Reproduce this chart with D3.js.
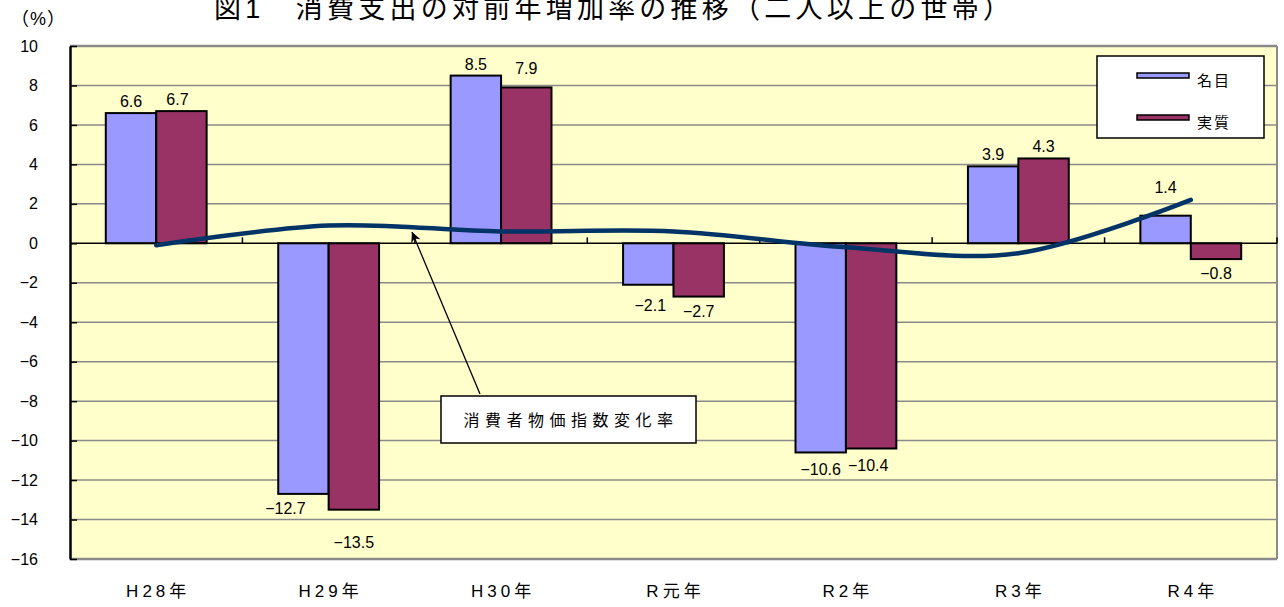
<!DOCTYPE html>
<html>
<head>
<meta charset="utf-8">
<script src="https://cdn.jsdelivr.net/npm/d3@7"></script>
<style>
  body { margin: 0; background: #fff; }
  text { font-family: "Liberation Sans", "Noto Sans CJK JP", sans-serif; }
</style>
</head>
<body>
<svg width="1284" height="607"></svg>
<script>
// data
const categories = ["H28年", "H29年", "H30年", "R元年", "R2年", "R3年", "R4年"];
const seriesNames = ["名目", "実質"];
const nominal = [6.6, -12.7, 8.5, -2.1, -10.6, 3.9, 1.4];
const real = [6.7, -13.5, 7.9, -2.7, -10.4, 4.3, -0.8];
const cpi = [-0.1, 0.9, 0.6, 0.6, -0.2, -0.5, 2.2];
const yTicks = [10, 8, 6, 4, 2, 0, -2, -4, -6, -8, -10, -12, -14, -16];

let svg = d3.select("svg"),
    plotLeft = 70, plotRight = 1277, plotTop = 46, plotBottom = 559;

let x = d3.scaleBand().domain(categories).range([plotLeft, plotRight]).paddingInner(0).paddingOuter(0);
let x1 = d3.scaleBand().domain(seriesNames).range([0, x.bandwidth()]).paddingInner(0).paddingOuter(0.71);
let y = d3.scaleLinear().domain([-16, 10]).range([plotBottom, plotTop]);
let color = d3.scaleOrdinal().domain(seriesNames).range(["#9999ff", "#993366"]);

let fmt = v => (v < 0 ? "\u2212" : "") + Math.abs(v).toFixed(1);

// title (cut off at top of image, as in the source)
svg.append("text")
    .attr("x", 214).attr("y", 18)
    .attr("font-size", 27)
    .attr("textLength", 796)
    .attr("lengthAdjust", "spacing")
    .attr("font-family", "Noto Sans CJK JP")
    .text("図1　消費支出の対前年増加率の推移（二人以上の世帯）");

svg.append("text")
    .attr("x", 11).attr("y", 25)
    .attr("font-size", 18)
    .attr("letter-spacing", 1)
    .attr("font-family", "Noto Sans CJK JP")
    .text("（%）");

// plot background
svg.append("rect")
    .attr("x", plotLeft).attr("y", plotTop)
    .attr("width", plotRight - plotLeft).attr("height", plotBottom - plotTop)
    .attr("fill", "#ffffcc");

// gridlines
svg.append("g")
    .selectAll("line")
    .data(yTicks.filter(d => d !== 0))
    .enter().append("line")
    .attr("x1", plotLeft).attr("x2", plotRight)
    .attr("y1", d => y(d)).attr("y2", d => y(d))
    .attr("stroke", "#8a8a8a")
    .attr("stroke-width", d => (d === 10 || d === -16) ? 2.5 : 1.5);

svg.append("line")
    .attr("x1", plotRight).attr("x2", plotRight).attr("y1", plotTop).attr("y2", plotBottom)
    .attr("stroke", "#8a8a8a").attr("stroke-width", 2);

// y axis
let yAxis = svg.append("g")
    .attr("transform", "translate(" + plotLeft + ",0)")
    .call(d3.axisLeft(y).tickValues(yTicks).tickSizeInner(-7).tickSizeOuter(0).tickPadding(32));
yAxis.select(".domain").attr("stroke", "#000").attr("stroke-width", 2.5);
yAxis.selectAll(".tick line").attr("stroke", "#000").attr("stroke-width", 1.5);
yAxis.selectAll(".tick text")
    .attr("font-size", 16)
    .attr("font-family", "Liberation Sans")
    .attr("fill", "#000");

// bars
let groups = svg.append("g")
    .selectAll("g")
    .data(categories)
    .enter().append("g")
    .attr("transform", d => "translate(" + x(d) + ",0)");

groups.selectAll("rect")
    .data((d, i) => [{ key: "名目", value: nominal[i], i: i }, { key: "実質", value: real[i], i: i }])
    .enter().append("rect")
    .attr("x", d => x1(d.key))
    .attr("y", d => y(Math.max(0, d.value)))
    .attr("width", x1.bandwidth())
    .attr("height", d => Math.abs(y(d.value) - y(0)))
    .attr("fill", d => color(d.key))
    .attr("stroke", "#000")
    .attr("stroke-width", 2);

// zero axis
svg.append("line")
    .attr("x1", plotLeft).attr("x2", plotRight).attr("y1", y(0)).attr("y2", y(0))
    .attr("stroke", "#000").attr("stroke-width", 1.5);
svg.append("g")
    .selectAll("line")
    .data(categories.slice(1).concat(["end"]))
    .enter().append("line")
    .attr("x1", (d, i) => i < categories.length - 1 ? x(d) : plotRight)
    .attr("x2", (d, i) => i < categories.length - 1 ? x(d) : plotRight)
    .attr("y1", y(0)).attr("y2", y(0) - 6)
    .attr("stroke", "#000").attr("stroke-width", 1.5);

// category labels
svg.append("g")
    .selectAll("text")
    .data(categories)
    .enter().append("text")
    .attr("x", d => x(d) + x.bandwidth() / 2 + 2)
    .attr("y", 597)
    .attr("text-anchor", "middle")
    .attr("font-size", 17)
    .attr("letter-spacing", 4)
    .attr("font-family", "Liberation Sans, Noto Sans CJK JP")
    .text(d => d);

// data labels (manual nudges like in the original sheet)
let nudge = {
    "名目": [[0, 0], [-18, 0], [0, 0], [2, 6], [0, 3], [0, 0], [0, -17]],
    "実質": [[-4, 0], [0, 18], [0, -7], [0, 0], [-3, 2], [0, 0], [0, 0]]
};
groups.selectAll("text.lbl")
    .data((d, i) => [{ key: "名目", value: nominal[i], i: i }, { key: "実質", value: real[i], i: i }])
    .enter().append("text")
    .attr("class", "lbl")
    .attr("x", d => x1(d.key) + x1.bandwidth() / 2 + nudge[d.key][d.i][0])
    .attr("y", d => (d.value >= 0 ? y(d.value) - 6 : y(d.value) + 20) + nudge[d.key][d.i][1])
    .attr("text-anchor", "middle")
    .attr("font-size", 16)
    .attr("font-family", "Liberation Sans")
    .text(d => fmt(d.value));

// CPI line (Excel-style smoothing)
let line = d3.line()
    .x((d, i) => x(categories[i]) + x.bandwidth() / 2)
    .y(d => y(d))
    .curve(d3.curveCardinal.tension(0));

svg.append("path")
    .datum(cpi)
    .attr("d", line)
    .attr("fill", "none")
    .attr("stroke", "#003366")
    .attr("stroke-width", 4.5)
    .attr("stroke-linecap", "round");

// annotation
svg.append("defs").append("marker")
    .attr("id", "arrow")
    .attr("viewBox", "0 0 10 10")
    .attr("refX", 10).attr("refY", 5)
    .attr("markerWidth", 12).attr("markerHeight", 10)
    .attr("markerUnits", "userSpaceOnUse")
    .attr("orient", "auto")
    .append("path")
    .attr("d", "M0,0 L10,5 L0,10 L3,5 Z")
    .attr("fill", "#000");

svg.append("line")
    .attr("x1", 480).attr("y1", 394)
    .attr("x2", 412).attr("y2", 232)
    .attr("stroke", "#000").attr("stroke-width", 1.3)
    .attr("marker-end", "url(#arrow)");

svg.append("rect")
    .attr("x", 441).attr("y", 396)
    .attr("width", 255).attr("height", 47)
    .attr("fill", "#fff").attr("stroke", "#000").attr("stroke-width", 1.5);
svg.append("text")
    .attr("x", 571).attr("y", 426)
    .attr("text-anchor", "middle")
    .attr("font-size", 16)
    .attr("letter-spacing", 5.5)
    .attr("font-family", "Noto Sans CJK JP")
    .text("消費者物価指数変化率");

// legend
let legend = svg.append("g");
legend.append("rect")
    .attr("x", 1097).attr("y", 56)
    .attr("width", 167).attr("height", 82)
    .attr("fill", "#fff").attr("stroke", "#000").attr("stroke-width", 1.5);
let items = legend.selectAll("g")
    .data(seriesNames)
    .enter().append("g")
    .attr("transform", (d, i) => "translate(0," + (i * 42) + ")");
items.append("rect")
    .attr("x", 1137).attr("y", 73)
    .attr("width", 52).attr("height", 5)
    .attr("fill", d => color(d))
    .attr("stroke", "#000").attr("stroke-width", 1.5);
items.append("text")
    .attr("x", 1197).attr("y", 81)
    .attr("dy", "0.35em")
    .attr("font-size", 15)
    .attr("letter-spacing", 2)
    .attr("font-family", "Noto Sans CJK JP")
    .text(d => d);
</script>
</body>
</html>
